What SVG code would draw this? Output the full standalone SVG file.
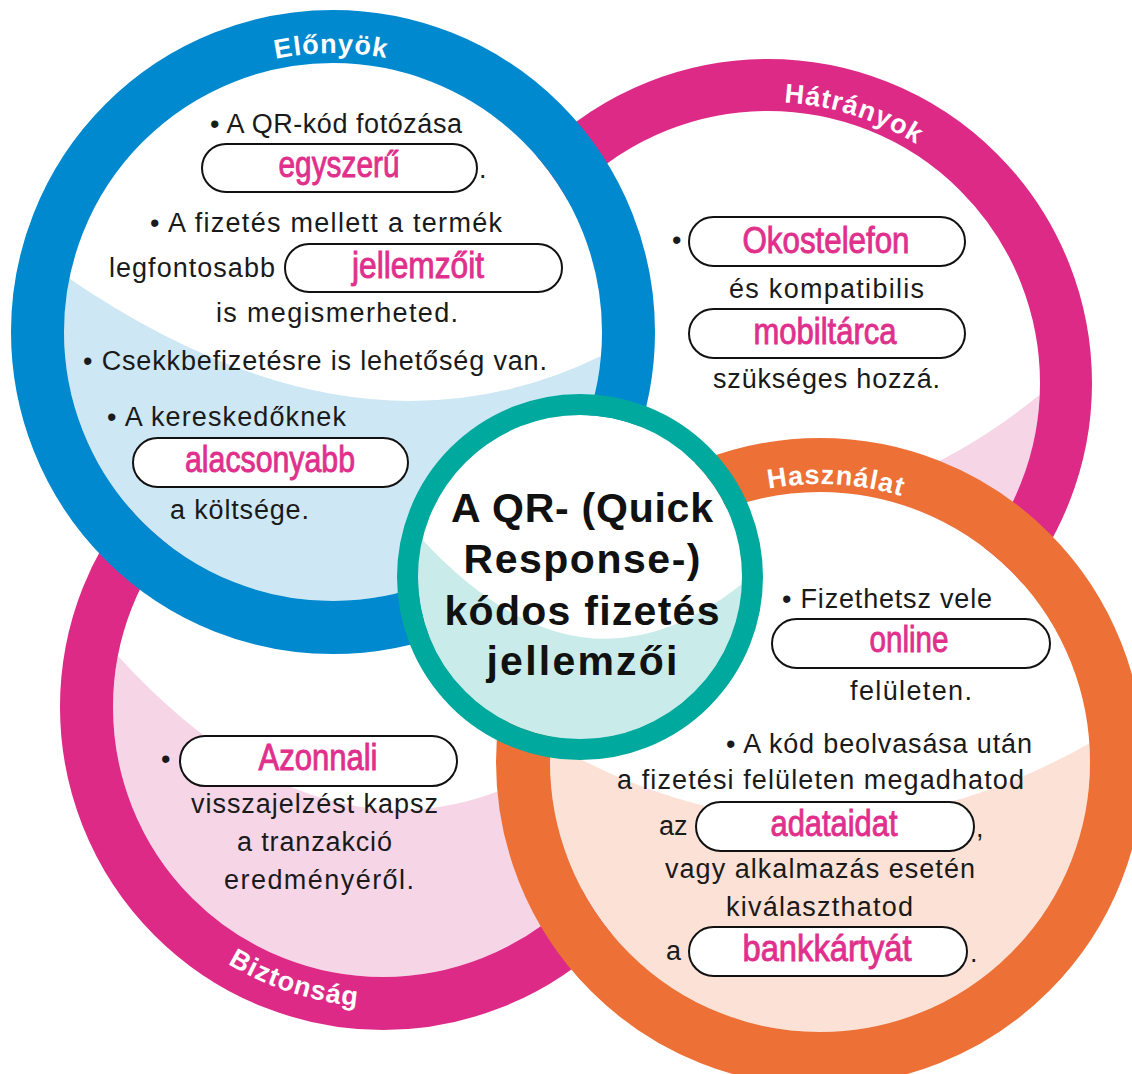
<svg xmlns="http://www.w3.org/2000/svg" width="1132" height="1074" viewBox="0 0 1132 1074">
<style>
.t{font-family:"Liberation Sans",Arial,sans-serif;font-size:27px;fill:#1a1a1a}
.p{font-family:"Liberation Sans",Arial,sans-serif;font-size:37px;fill:#e0308c;stroke:#e0308c;stroke-width:0.9px;text-anchor:middle}
.pill{fill:#fff;stroke:#111;stroke-width:2}
.lab{font-family:"Liberation Sans",Arial,sans-serif;font-size:27px;font-weight:bold;fill:#fff;letter-spacing:1px}
.title{font-family:"Liberation Sans",Arial,sans-serif;font-size:41px;font-weight:bold;fill:#111;text-anchor:middle}
.ring{fill:none}
</style>
<defs>
<clipPath id="cH"><circle cx="768" cy="383" r="272"/></clipPath>
<clipPath id="cB"><circle cx="383" cy="707" r="270"/></clipPath>
<clipPath id="cE"><circle cx="333" cy="332" r="269"/></clipPath>
<clipPath id="cU"><circle cx="820" cy="762" r="270"/></clipPath>
<clipPath id="cT"><circle cx="580" cy="577" r="162"/></clipPath>
<path id="pE" d="M54,332 A279,279 0 0 1 612,332"/>
<path id="pH" d="M487,383 A281,281 0 0 1 1049,383"/>
<path id="pU" d="M542,762 A278,278 0 0 1 1098,762"/>
<path id="pB" d="M83,707 A300,300 0 0 0 683,707"/>
</defs>
<rect width="1132" height="1074" fill="#fff"/>

<g id="n-hatranyok">
<g clip-path="url(#cH)">
<rect x="440" y="50" width="692" height="700" fill="#fff"/>
<path d="M420,330 L494,393 Q768,616 1042,393 L1132,330 L1132,750 L420,750 Z" fill="#f6d5e6"/>
</g>
<circle class="ring" cx="768" cy="383" r="298" stroke="#dd2a87" stroke-width="52"/>
<text class="lab"><textPath href="#pH" startOffset="59.8%" text-anchor="middle">Hátrányok</textPath></text>
<text class="t" x="672" y="249">•</text>
<rect class="pill" x="689" y="217" width="276" height="49" rx="24.5"/>
<text class="p" x="826" y="253" textLength="167" lengthAdjust="spacingAndGlyphs">Okostelefon</text>
<text class="t" x="729" y="298" textLength="195">és kompatibilis</text>
<rect class="pill" x="689" y="309" width="276" height="49" rx="24.5"/>
<text class="p" x="825" y="344" textLength="143" lengthAdjust="spacingAndGlyphs">mobiltárca</text>
<text class="t" x="713" y="388" textLength="227">szükséges hozzá.</text>
</g>

<g id="n-biztonsag">
<g clip-path="url(#cB)">
<rect x="100" y="430" width="570" height="560" fill="#fff"/>
<path d="M0,560 L117,655 Q400,965 683,655 L800,560 L800,1074 L0,1074 Z" fill="#f6d5e6"/>
</g>
<circle class="ring" cx="383" cy="707" r="296.5" stroke="#dd2a87" stroke-width="53"/>
<text class="lab"><textPath href="#pB" startOffset="40%" text-anchor="middle">Biztonság</textPath></text>
<text class="t" x="161" y="768">•</text>
<rect class="pill" x="180" y="736" width="277" height="50" rx="25"/>
<text class="p" x="318" y="770" textLength="119" lengthAdjust="spacingAndGlyphs">Azonnali</text>
<text class="t" x="191" y="813" textLength="247">visszajelzést kapsz</text>
<text class="t" x="237" y="851" textLength="155">a tranzakció</text>
<text class="t" x="224" y="889" textLength="190">eredményéről.</text>
</g>

<g id="n-elonyok">
<g clip-path="url(#cE)">
<rect x="60" y="60" width="550" height="550" fill="#fff"/>
<path d="M0,240 L67,277 Q360,478 607,353 L700,300 L700,700 L0,700 Z" fill="#cde7f4"/>
</g>
<circle class="ring" cx="333" cy="332" r="295.5" stroke="#0089cf" stroke-width="53"/>
<text class="lab"><textPath href="#pE" startOffset="49.8%" text-anchor="middle">Előnyök</textPath></text>
<text class="t" x="210" y="133" textLength="252">• A QR-kód fotózása</text>
<rect class="pill" x="202" y="144" width="275" height="48" rx="24"/>
<text class="p" x="339" y="177" textLength="121" lengthAdjust="spacingAndGlyphs">egyszerű</text>
<text class="t" x="479" y="178">.</text>
<text class="t" x="150" y="232" textLength="352">• A fizetés mellett a termék</text>
<text class="t" x="109" y="277" textLength="166">legfontosabb</text>
<rect class="pill" x="285" y="244" width="277" height="48" rx="24"/>
<text class="p" x="418" y="278" textLength="132" lengthAdjust="spacingAndGlyphs">jellemzőit</text>
<text class="t" x="216" y="322" textLength="242">is megismerheted.</text>
<text class="t" x="83" y="370" textLength="464">• Csekkbefizetésre is lehetőség van.</text>
<text class="t" x="107" y="426" textLength="239">• A kereskedőknek</text>
<rect class="pill" x="133" y="438" width="275" height="49" rx="24.5"/>
<text class="p" x="270" y="472" textLength="170" lengthAdjust="spacingAndGlyphs">alacsonyabb</text>
<text class="t" x="170" y="519" textLength="139">a költsége.</text>
</g>

<g id="n-hasznalat">
<g clip-path="url(#cU)">
<rect x="540" y="480" width="592" height="594" fill="#fff"/>
<path d="M480,720 L545,740 Q820,900 1095,740 L1132,720 L1132,1074 L480,1074 Z" fill="#fce1d6"/>
</g>
<circle class="ring" cx="820" cy="762" r="297" stroke="#ed7136" stroke-width="54"/>
<text class="lab"><textPath href="#pU" startOffset="51.8%" text-anchor="middle">Használat</textPath></text>
<text class="t" x="782" y="608" textLength="210">• Fizethetsz vele</text>
<rect class="pill" x="772" y="619" width="278" height="49" rx="24.5"/>
<text class="p" x="909" y="652" textLength="79" lengthAdjust="spacingAndGlyphs">online</text>
<text class="t" x="850" y="700" textLength="122">felületen.</text>
<text class="t" x="726" y="753" textLength="306">• A kód beolvasása után</text>
<text class="t" x="617" y="789" textLength="407">a fizetési felületen megadhatod</text>
<text class="t" x="659" y="835">az</text>
<rect class="pill" x="696" y="802" width="278" height="49" rx="24.5"/>
<text class="p" x="834" y="836" textLength="127" lengthAdjust="spacingAndGlyphs">adataidat</text>
<text class="t" x="976" y="837">,</text>
<text class="t" x="665" y="878" textLength="310">vagy alkalmazás esetén</text>
<text class="t" x="726" y="916" textLength="187">kiválaszthatod</text>
<text class="t" x="666" y="960">a</text>
<rect class="pill" x="689" y="927" width="278" height="49" rx="24.5"/>
<text class="p" x="827" y="961" textLength="169" lengthAdjust="spacingAndGlyphs">bankkártyát</text>
<text class="t" x="970" y="962">.</text>
</g>

<g id="n-center">
<g clip-path="url(#cT)">
<rect x="400" y="400" width="360" height="360" fill="#fff"/>
<path d="M380,520 L420,537 Q583,716 747,580 L780,560 L780,780 L380,780 Z" fill="#c9ecea"/>
</g>
<circle class="ring" cx="580" cy="577" r="172.5" stroke="#00a99d" stroke-width="21"/>
<text class="title" x="582" y="522" textLength="262">A QR- (Quick</text>
<text class="title" x="582" y="573" textLength="237">Response-)</text>
<text class="title" x="582" y="625" textLength="275">kódos fizetés</text>
<text class="title" x="582" y="675" textLength="191">jellemzői</text>
</g>

<g id="connectors"/>
</svg>
